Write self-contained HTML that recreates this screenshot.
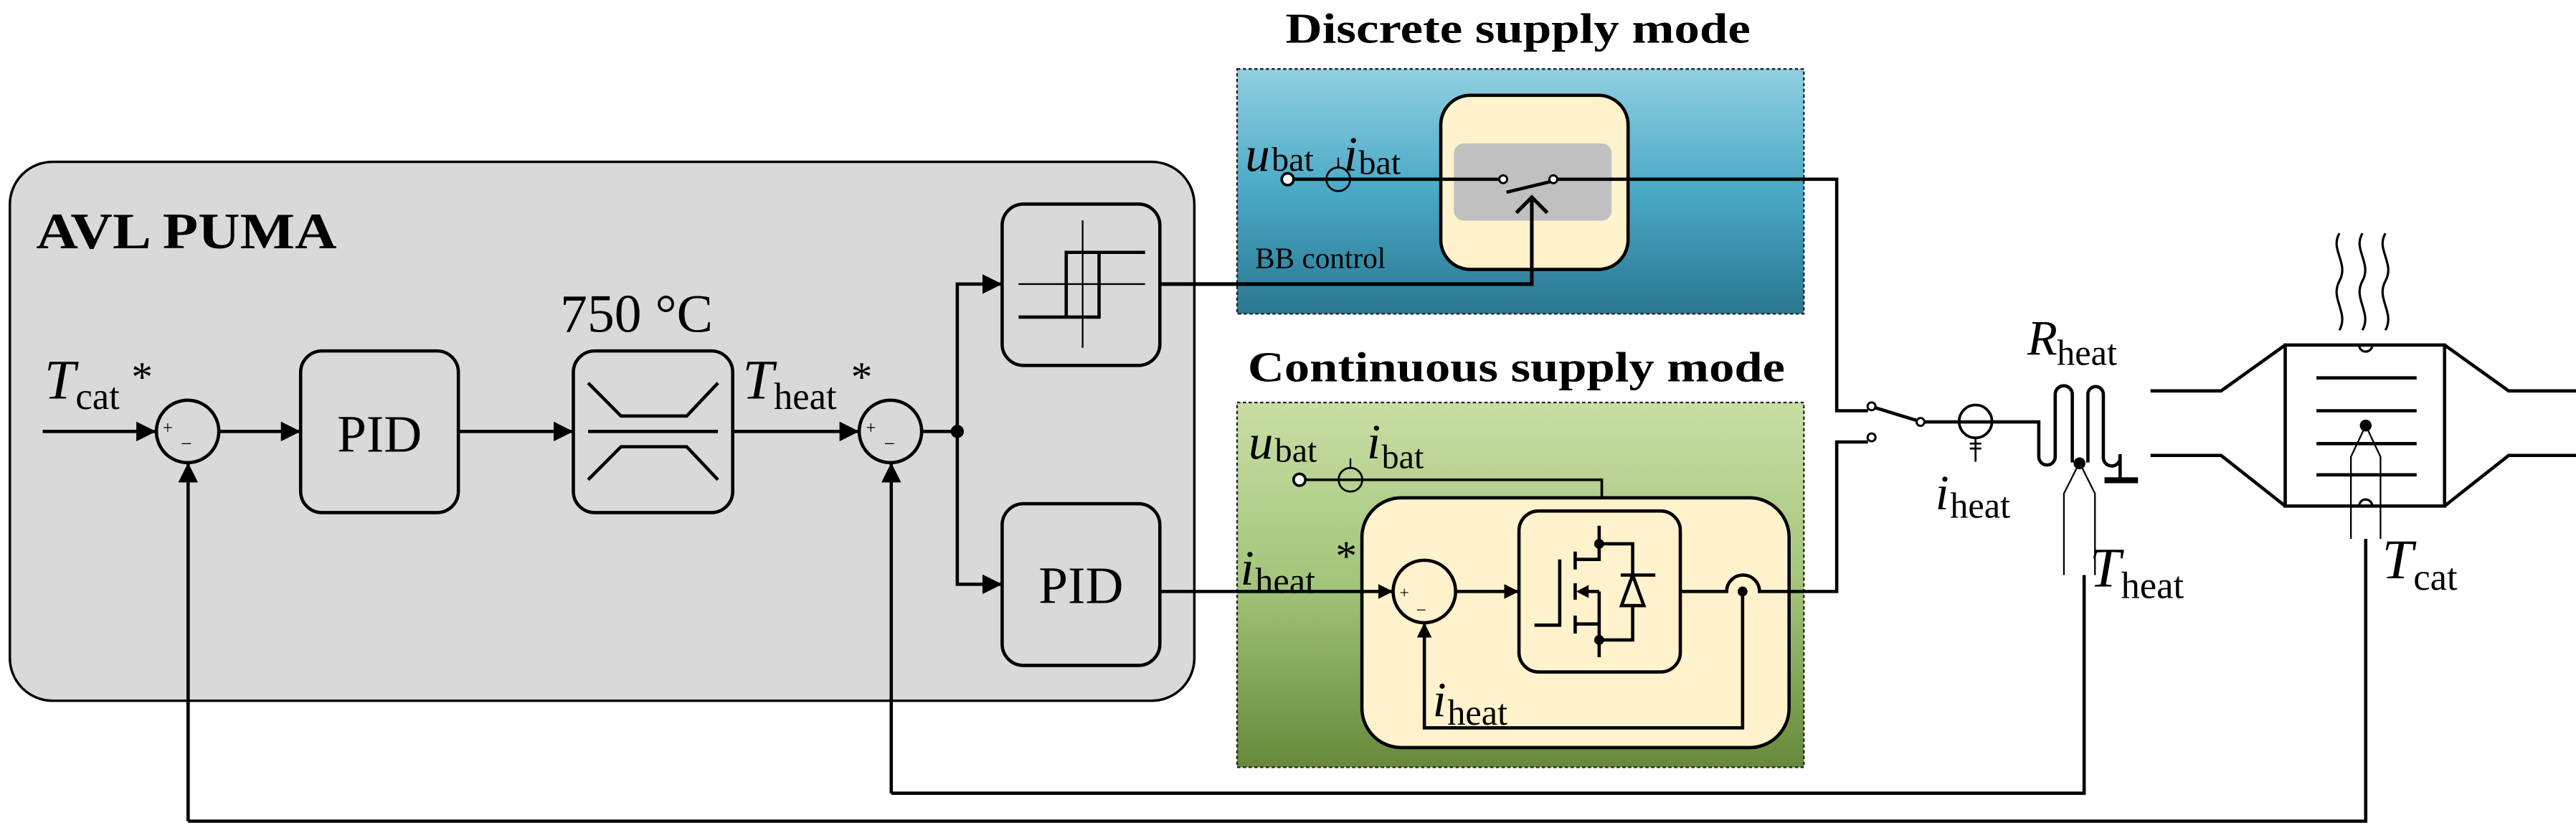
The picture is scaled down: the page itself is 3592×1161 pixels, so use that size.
<!DOCTYPE html>
<html><head><meta charset="utf-8"><style>
html,body{margin:0;padding:0;background:#fff;}
svg{display:block;}
text{font-family:"Liberation Serif",serif;}
</style></head><body>
<svg width="3592" height="1161" viewBox="0 0 1568 507" preserveAspectRatio="none" xmlns="http://www.w3.org/2000/svg">
<defs>
<linearGradient id="gb" x1="0" y1="0" x2="0" y2="1"><stop offset="0" stop-color="#91cfe0"/><stop offset="0.5" stop-color="#4aa9c7"/><stop offset="1" stop-color="#2a7790"/></linearGradient>
<linearGradient id="gg" x1="0" y1="0" x2="0" y2="1"><stop offset="0" stop-color="#c8dea4"/><stop offset="0.5" stop-color="#a3c47a"/><stop offset="1" stop-color="#66893a"/></linearGradient>
<marker id="ar" viewBox="0 0 10 10" refX="10" refY="5" markerWidth="9" markerHeight="9" markerUnits="userSpaceOnUse" orient="auto"><path d="M0,0 L10,5 L0,10 z" fill="#000"/></marker>
<marker id="ar2" viewBox="0 0 10 10" refX="10" refY="5" markerWidth="12" markerHeight="12" markerUnits="userSpaceOnUse" orient="auto"><path d="M0,0 L10,5 L0,10 z" fill="#000"/></marker>
</defs>
<g fill="none" stroke="#000" stroke-width="2">
<rect x="6" y="98.5" width="721" height="328" rx="26" fill="#d9d9d9" stroke-width="1.5"/>
<rect x="183" y="213.6" width="96" height="98.4" rx="13" fill="#d9d9d9"/>
<rect x="349" y="213.6" width="97" height="98.4" rx="13" fill="#d9d9d9"/>
<path d="M358,233.1 L378,253.2 L418,253.2 L437,233.1 M358,262.6 H437 M358,292 L378,271.9 L418,271.9 L437,292" stroke-width="2"/>
<rect x="610" y="124.2" width="96" height="98.2" rx="13" fill="#d9d9d9"/>
<path d="M659,134.1 V211.7 M620,172.9 H697" stroke-width="1"/>
<path d="M697,153.6 H649 V193 H620 M669,153.6 V193 H649" stroke-width="2"/>
<rect x="610" y="306.6" width="96" height="98.4" rx="13" fill="#d9d9d9"/>
<circle cx="114.2" cy="262.6" r="19" fill="#d9d9d9"/>
<circle cx="542" cy="262.6" r="19" fill="#d9d9d9"/>
<path d="M26,262.6 H95" marker-end="url(#ar2)"/>
<path d="M133,262.6 H183" marker-end="url(#ar2)"/>
<path d="M279,262.6 H349" marker-end="url(#ar2)"/>
<path d="M446,262.6 H523" marker-end="url(#ar2)"/>
<path d="M561,262.6 H582.7"/>
<path d="M582.7,262.6 V172.9 H610" marker-end="url(#ar2)"/>
<path d="M582.7,262.6 V355.6 H610" marker-end="url(#ar2)"/>
<path d="M114.5,499.8 V281.6" marker-end="url(#ar2)"/>
<path d="M114.5,499.8 H1440 V328"/>
<path d="M542.5,482.8 V281.6" marker-end="url(#ar2)"/>
<path d="M542.5,482.8 H1268.6 V350"/>
</g>
<circle cx="582.7" cy="262.6" r="4" fill="#000"/>
<text x="22" y="151" font-size="31" font-weight="bold" textLength="183" lengthAdjust="spacingAndGlyphs">AVL PUMA</text>
<text x="231" y="275" font-size="32" text-anchor="middle">PID</text>
<text x="658" y="367" font-size="32" text-anchor="middle">PID</text>
<text x="341" y="202" font-size="33">750 °C</text>
<text x="27" y="242.5" font-size="34" font-style="italic">T</text>
<text x="46" y="249" font-size="23">cat</text>
<text x="80" y="238" font-size="26">*</text>
<text x="452" y="242.5" font-size="34" font-style="italic">T</text>
<text x="471" y="249" font-size="23">heat</text>
<text x="518" y="238" font-size="26">*</text>
<text x="99" y="264" font-size="11">+</text><text x="110" y="274" font-size="12">−</text>
<text x="527" y="264" font-size="11">+</text><text x="538" y="274" font-size="12">−</text>

<text x="924" y="26" font-size="26" font-weight="bold" text-anchor="middle" textLength="283" lengthAdjust="spacingAndGlyphs">Discrete supply mode</text>
<rect x="753" y="42" width="345" height="149" fill="url(#gb)" stroke="#222" stroke-width="1" stroke-dasharray="2,1.5"/>
<rect x="877" y="58" width="114" height="106" rx="18" fill="#fff2cc" stroke="#000" stroke-width="2"/>
<rect x="885" y="87.3" width="96" height="47" rx="6" fill="#c0c0c0"/>
<text x="758" y="104" font-size="30" font-style="italic">u</text>
<text x="774" y="104" font-size="21">bat</text>
<text x="818" y="104" font-size="30" font-style="italic">i</text>
<text x="827" y="106" font-size="21">bat</text>
<text x="764" y="163" font-size="18">BB control</text>
<g fill="none" stroke="#000" stroke-width="2">
<path d="M787,109.1 H912 M948,109.1 H1118 V250 H1137"/>
<path d="M917,117 L946,110"/>
<path d="M706,172.9 H932.4 V121 M923,129.5 L932.4,120 L941.8,129.5" stroke-width="2.2"/>
</g>
<circle cx="783.8" cy="109.1" r="3.6" fill="#fff" stroke="#000" stroke-width="1.6"/>
<circle cx="814.6" cy="109.1" r="7.2" fill="none" stroke="#000" stroke-width="1.2"/>
<path d="M814.6,102 V96" stroke="#000" stroke-width="1"/>
<circle cx="915" cy="109.1" r="2.4" fill="#fff" stroke="#000" stroke-width="1.3"/>
<circle cx="945.5" cy="109.1" r="2.4" fill="#fff" stroke="#000" stroke-width="1.3"/>

<text x="923" y="232" font-size="26" font-weight="bold" text-anchor="middle" textLength="327" lengthAdjust="spacingAndGlyphs">Continuous supply mode</text>
<rect x="753" y="245" width="345" height="222" fill="url(#gg)" stroke="#222" stroke-width="1" stroke-dasharray="2,1.5"/>
<rect x="829" y="303" width="260" height="152" rx="24" fill="#fff2cc" stroke="#000" stroke-width="2"/>
<text x="760" y="279" font-size="30" font-style="italic">u</text>
<text x="776" y="281" font-size="21">bat</text>
<text x="832" y="279" font-size="30" font-style="italic">i</text>
<text x="841" y="285" font-size="21">bat</text>
<text x="755" y="356" font-size="30" font-style="italic">i</text>
<text x="764" y="361" font-size="22">heat</text>
<text x="813" y="347" font-size="26">*</text>
<text x="872" y="436" font-size="30" font-style="italic">i</text>
<text x="881" y="441" font-size="22">heat</text>
<g fill="none" stroke="#000" stroke-width="2">
<path d="M794,292 H975 V303" stroke-width="1.6"/>
<path d="M706,360 H848" marker-end="url(#ar)"/>
<rect x="924.6" y="311" width="98.2" height="98" rx="12" fill="#fff2cc"/>
<circle cx="867" cy="360" r="19" fill="#fff2cc"/>
<path d="M886,360 H924.6" marker-end="url(#ar)"/>
<path d="M1022.8,360 H1051 A10,10 0 0 1 1071,360 H1118 V269 H1137"/>
<path d="M1060.7,360 V443 H867 V379" marker-end="url(#ar)"/>
<path d="M934,380.5 H949.4 V340.5"/>
<path d="M958.8,335.7 V346.6 M958.8,355 V365 M958.8,374.7 V385.6"/>
<path d="M958.8,340.5 H973.4 V320 M973.4,331 H993.8 V389.5 H973.4 M958.8,379.8 H973.4 V400 M973.4,360 V379.8 M966,360 H973.4"/>
<path d="M986.5,350 H1007.6 M993.8,350 L987,368.6 H1000.6 Z" fill="#fff2cc"/>
</g>
<path d="M959.5,360 L967,356 L967,364 Z" fill="#000"/>
<circle cx="973.4" cy="331" r="3" fill="#000"/>
<circle cx="973.4" cy="389.5" r="3" fill="#000"/>
<circle cx="1060.7" cy="360" r="3" fill="#000"/>
<circle cx="791" cy="292" r="3.6" fill="#fff" stroke="#000" stroke-width="1.6"/>
<circle cx="822" cy="292" r="7.2" fill="none" stroke="#000" stroke-width="1.2"/>
<path d="M822,285 V279" stroke="#000" stroke-width="1"/>
<text x="852" y="364" font-size="10">+</text><text x="862" y="375" font-size="11">−</text>

<g fill="none" stroke="#000" stroke-width="2">
<path d="M1141,248 L1167,256"/>
<path d="M1171,256.8 H1241 V278 A5,5 0 0 0 1251,278 V240 A5,5 0 0 1 1261.4,240 V281.5 M1270.9,281.5 V240 A4.7,4.7 0 0 1 1280.3,240 V278 A5,5 0 0 0 1290.5,279"/>
<path d="M1290.5,276.4 V292.4"/>
<path d="M1265.8,281.5 L1256.3,300.4 V350 M1265.8,281.5 L1275.2,300.4 V350" stroke-width="1"/>
<path d="M1202.5,266 V281 M1199,270 H1206 M1199,273 H1206" stroke-width="1.2"/>
</g>
<rect x="1281" y="290.5" width="20.4" height="3.6" fill="#000"/>
<circle cx="1265.8" cy="282" r="3.6" fill="#000"/>
<circle cx="1202.5" cy="256.5" r="10" fill="none" stroke="#000" stroke-width="1.6"/>
<path d="M1192.5,256.8 H1212.5" stroke="#000" stroke-width="1"/>
<circle cx="1139.2" cy="247.3" r="2.4" fill="#fff" stroke="#000" stroke-width="1.3"/>
<circle cx="1139.2" cy="266.2" r="2.4" fill="#fff" stroke="#000" stroke-width="1.3"/>
<circle cx="1169" cy="256.8" r="2.4" fill="#fff" stroke="#000" stroke-width="1.3"/>
<text x="1234" y="216" font-size="30" font-style="italic">R</text>
<text x="1252" y="222" font-size="22">heat</text>
<text x="1178" y="310" font-size="30" font-style="italic">i</text>
<text x="1187" y="315" font-size="22">heat</text>
<text x="1272" y="357" font-size="34" font-style="italic">T</text>
<text x="1291" y="364" font-size="23">heat</text>
<text x="1450" y="352" font-size="34" font-style="italic">T</text>
<text x="1469" y="359" font-size="23">cat</text>

<g fill="none" stroke="#000" stroke-width="2">
<path d="M1309,237.9 H1352 L1391,210 M1309,277.2 H1352 L1391,308"/>
<path d="M1568,237.9 H1527 L1488,210 M1568,277.2 H1527 L1488,308"/>
<rect x="1391" y="210" width="97" height="98"/>
<path d="M1410,230 H1471 M1410,250 H1471 M1410,270 H1471 M1410,289 H1471"/>
<path d="M1440,259 L1431,278 V328 M1440,259 L1449,278 V328" stroke-width="1"/>
<path d="M1436,210 A4,4 0 0 0 1444,210 M1436,308 A4,4 0 0 1 1444,308" stroke-width="1.4"/>
<path d="M1424,142 C1418,152 1430,160 1424,171 C1418,182 1430,190 1424,201 M1438,142 C1432,152 1444,160 1438,171 C1432,182 1444,190 1438,201 M1452,142 C1446,152 1458,160 1452,171 C1446,182 1458,190 1452,201" stroke-width="1.4"/>
</g>
<circle cx="1440" cy="259" r="3.6" fill="#000"/>
</svg>
</body></html>
